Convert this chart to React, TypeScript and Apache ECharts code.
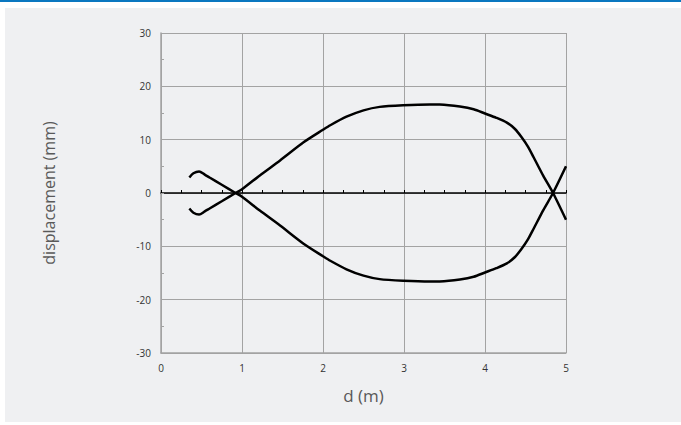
import React, { useEffect, useRef } from "react";
import * as echarts from "echarts";

const dValues = [0.35, 0.4, 0.47, 0.54, 0.6, 0.75, 0.92, 1.0, 1.22, 1.47, 1.76, 2.0, 2.09, 2.29, 2.5, 2.7, 2.99, 3.32, 3.44, 3.69, 3.86, 4.0, 4.14, 4.27, 4.37, 4.45, 4.53, 4.6, 4.72, 4.84, 5.0];
const curveA = [2.9, 3.7, 4.05, 3.45, 2.9, 1.55, 0, -0.7, -3.3, -6.1, -9.5, -11.85, -12.7, -14.3, -15.5, -16.15, -16.45, -16.6, -16.58, -16.2, -15.7, -14.9, -14.1, -13.2, -12.0, -10.5, -8.7, -6.7, -3.2, 0, 5.0];
const curveB = [-2.9, -3.7, -4.05, -3.45, -2.9, -1.55, 0, 0.7, 3.3, 6.1, 9.5, 11.85, 12.7, 14.3, 15.5, 16.15, 16.45, 16.6, 16.58, 16.2, 15.7, 14.9, 14.1, 13.2, 12.0, 10.5, 8.7, 6.7, 3.2, 0, -5.0];

const xName = "d (m)";
const yName = "displacement (mm)";
const xMin = 0, xMax = 5, xStep = 1;
const yMin = -30, yMax = 30, yStep = 10;

const FONT = "'Open Sans', 'DejaVu Sans', sans-serif";
const GRID_COLOR = "#a3a3a3";

export default function App() {
  const ref = useRef<HTMLDivElement>(null);
  useEffect(() => {
    if (!ref.current) return;
    const chart = echarts.init(ref.current, undefined, { renderer: "svg" });
    const toPairs = (ys: number[]) => dValues.map((d, i) => [d, ys[i]]);
    const lineSeries = (ys: number[]) => ({
      type: "line",
      xAxisIndex: 0,
      data: toPairs(ys),
      showSymbol: false,
      smooth: 0.25,
      lineStyle: { color: "#000000", width: 2.5 },
      z: 5,
    });
    chart.setOption({
      animation: false,
      backgroundColor: "#ffffff",
      textStyle: { fontFamily: FONT },
      graphic: [
        { type: "rect", z: -100, silent: true, shape: { x: 0, y: 0, width: 681, height: 2 }, style: { fill: "#0a77c0" } },
        { type: "rect", z: -100, silent: true, shape: { x: 5, y: 8, width: 676, height: 414 }, style: { fill: "#eff0f2" } },
      ],
      grid: { left: 161, top: 33, right: 115, bottom: 72, containLabel: false },
      xAxis: [
        {
          type: "value",
          min: xMin,
          max: xMax,
          interval: xStep,
          position: "bottom",
          name: xName,
          nameLocation: "middle",
          nameGap: 34,
          nameTextStyle: { fontSize: 17, color: "#595959", fontFamily: FONT },
          axisLine: { show: true, onZero: false, lineStyle: { color: GRID_COLOR, width: 1.5 } },
          axisTick: { show: false },
          axisLabel: { fontSize: 10, color: "#333333", margin: 10, fontFamily: FONT },
          splitLine: { show: true, lineStyle: { color: GRID_COLOR, width: 1 } },
        },
        {
          type: "value",
          min: xMin,
          max: xMax,
          interval: xStep,
          position: "bottom",
          axisLine: { show: true, onZero: true, onZeroAxisIndex: 0, lineStyle: { color: "#000000", width: 1.5 } },
          axisTick: { show: true, inside: true, length: 3, lineStyle: { color: "#000000", width: 1 } },
          minorTick: { show: true, splitNumber: 4, length: 3, lineStyle: { color: "#000000", width: 1 } },
          axisLabel: { show: false },
          splitLine: { show: false },
        },
      ],
      yAxis: {
        type: "value",
        min: yMin,
        max: yMax,
        interval: yStep,
        name: yName,
        nameLocation: "middle",
        nameRotate: 90,
        nameGap: 104,
        nameTextStyle: { fontSize: 16, color: "#595959", fontFamily: FONT },
        axisLine: { show: true, lineStyle: { color: GRID_COLOR, width: 1.5 } },
        axisTick: { show: true, inside: true, length: 3, lineStyle: { color: GRID_COLOR } },
        minorTick: { show: true, splitNumber: 2, length: 3, lineStyle: { color: GRID_COLOR } },
        axisLabel: { fontSize: 10, color: "#333333", margin: 10, fontFamily: FONT },
        splitLine: { show: true, lineStyle: { color: GRID_COLOR, width: 1 } },
      },
      series: [lineSeries(curveA), lineSeries(curveB)],
    });
    return () => chart.dispose();
  }, []);
  return <div ref={ref} style={{ position: "fixed", left: 0, top: 0, width: 681, height: 425 }} />;
}
